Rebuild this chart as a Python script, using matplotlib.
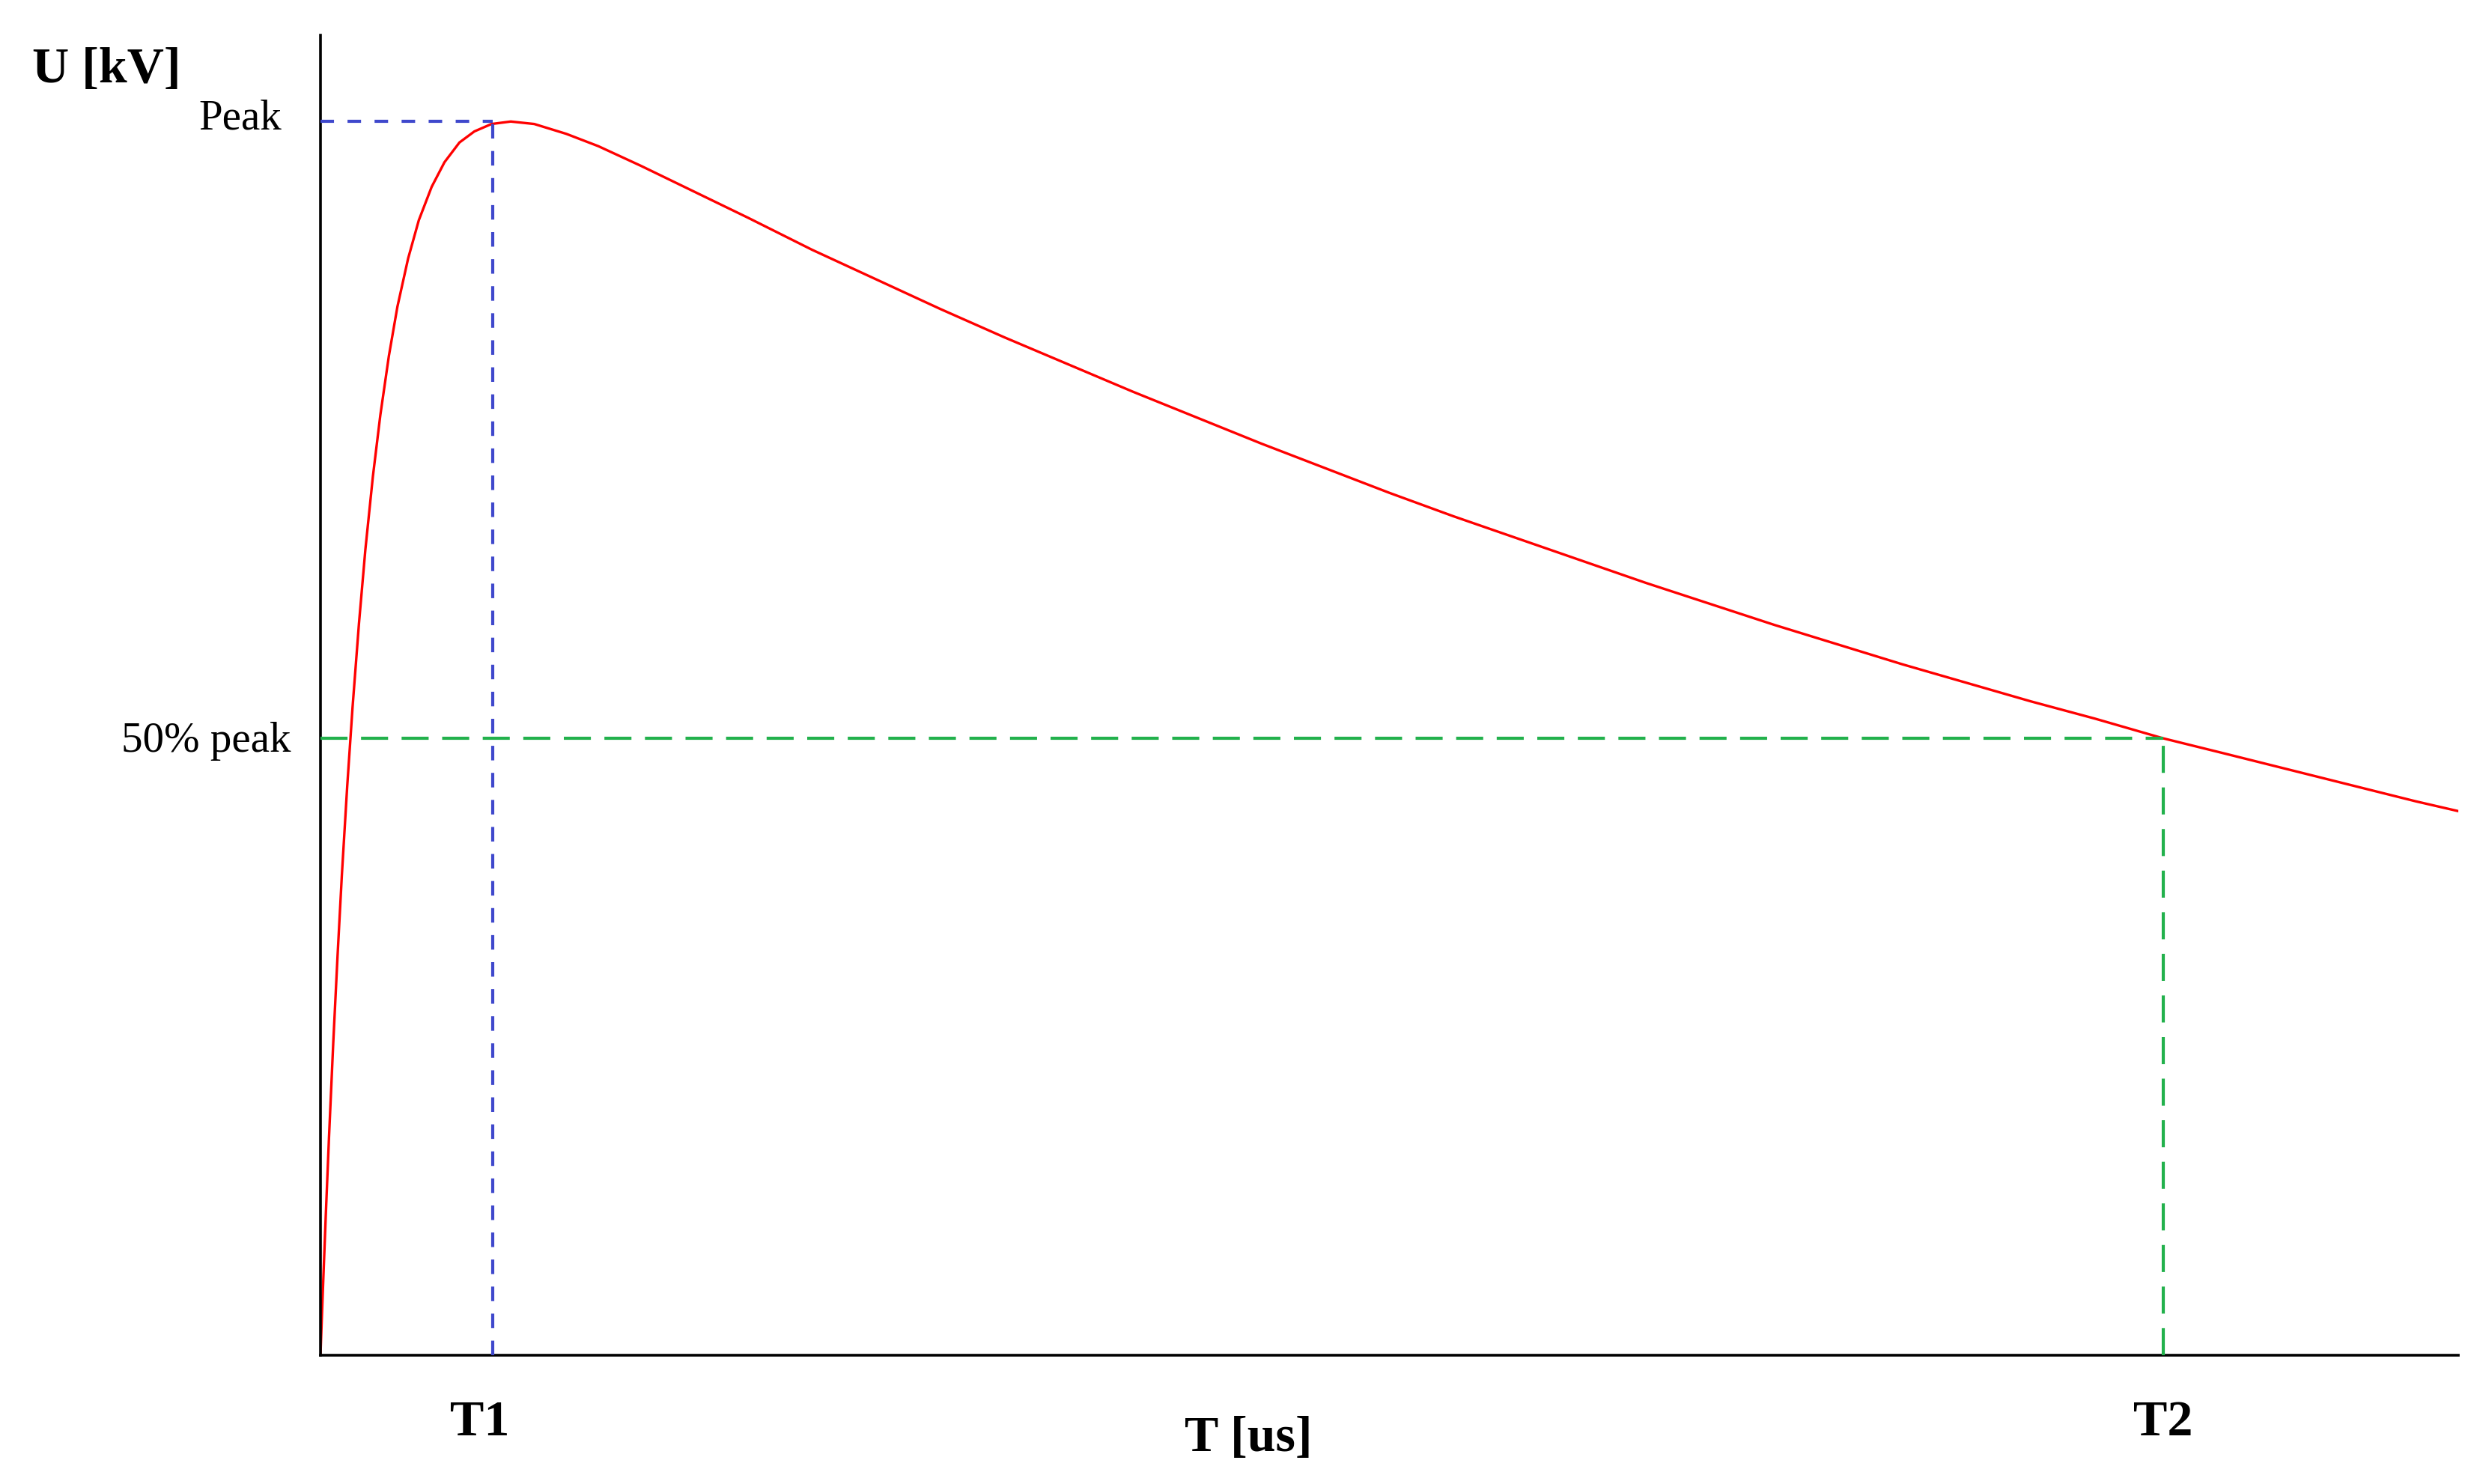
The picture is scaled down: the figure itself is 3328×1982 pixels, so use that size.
import matplotlib
matplotlib.use("Agg")
import matplotlib.pyplot as plt

# impulse wave (time in % of axis width, voltage in % of peak)
time = [0, 0.1, 0.25, 0.4, 0.6, 0.8, 1.0, 1.25, 1.5, 1.8, 2.1, 2.45, 2.8, 3.2, 3.6,
        4.1, 4.6, 5.2, 5.8, 6.5, 7.2, 8.0, 8.9, 10, 11.5, 13, 15, 17.5, 20, 23, 26,
        29, 32, 35, 38, 41, 44, 47, 50, 53, 56, 59, 62, 65, 68, 71, 74, 77, 80, 83,
        86.2, 89, 92, 95, 98, 100]
voltage = [0, 4.7, 11.4, 17.7, 25.4, 32.4, 38.9, 46.1, 52.5, 59.3, 65.3, 71.2, 76.2,
           81.0, 85.0, 88.9, 92.0, 94.7, 96.7, 98.3, 99.2, 99.8, 100.0, 99.8, 99.0,
           98.0, 96.4, 94.3, 92.2, 89.6, 87.2, 84.8, 82.5, 80.3, 78.1, 76.0, 73.9,
           71.9, 69.9, 68.0, 66.2, 64.4, 62.6, 60.9, 59.2, 57.6, 56.0, 54.5, 53.0,
           51.6, 50.0, 48.8, 47.5, 46.2, 44.9, 44.1]

t1 = 8.06
t2 = 86.2
peak = 100
half = 50

red = "#ff0000"
blue = "#3f48cc"
green = "#22b14c"

plt.rcParams["font.family"] = ["Liberation Serif", "DejaVu Serif"]
plt.rcParams["lines.scale_dashes"] = False

fig = plt.figure(figsize=(33.28, 19.82), dpi=100)
ax = fig.add_axes([0.1286, 0.0868, 0.8579, 0.8895])

ax.plot(time, voltage, color=red, lw=2.4, zorder=2)

ax.plot([0, t1], [peak, peak], color=blue, lw=3.0, dashes=(13, 13), zorder=3)
ax.plot([t1, t1], [0, peak], color=blue, lw=3.0, dashes=(14, 12), zorder=3)
ax.plot([0, t2], [half, half], color=green, lw=3.0, dashes=(26, 13), zorder=3)
ax.plot([t2, t2], [0, half], color=green, lw=3.0, dashes=(26, 14), zorder=3)

ax.set_xlim(0, 100)
ax.set_ylim(0, 107)
ax.set_xticks([])
ax.set_yticks([])
for s in ["top", "right"]:
    ax.spines[s].set_visible(False)
for s in ["left", "bottom"]:
    ax.spines[s].set_linewidth(2.6)
    ax.spines[s].set_color("black")

ax.text(-13.5, 103.2, "U [kV]", fontsize=49, fontweight="bold", ha="left",
        va="baseline", clip_on=False)
ax.text(-1.82, 99.4, "Peak", fontsize=41, ha="right", va="baseline", clip_on=False)
ax.text(-1.40, 48.9, "50% peak", fontsize=41, ha="right", va="baseline", clip_on=False)
ax.text(t1 - 0.6, -6.5, "T1", fontsize=49, fontweight="bold", ha="center",
        va="baseline", clip_on=False)
ax.text(t2, -6.5, "T2", fontsize=49, fontweight="bold", ha="center",
        va="baseline", clip_on=False)
ax.text(43.4, -7.8, "T [us]", fontsize=49, fontweight="bold", ha="center",
        va="baseline", clip_on=False)

fig.savefig("out.png", dpi=100, facecolor="white")
